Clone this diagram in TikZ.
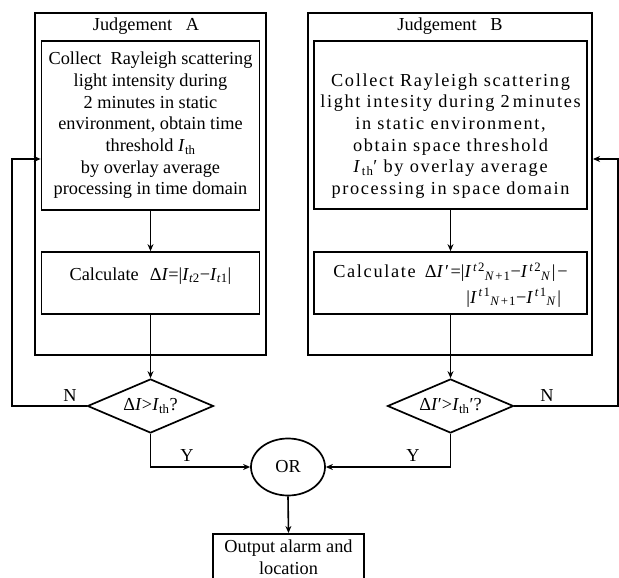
\documentclass[tikz,border=0pt]{standalone}
\usepackage{fontspec}
\setmainfont{Liberation Serif}
\newfontfamily\spacedfont[LetterSpace=9]{Liberation Serif}
\usetikzlibrary{arrows.meta,shapes.geometric}
\tikzset{
  box/.style={draw, line width=1.7pt, inner sep=0pt},
  outerbox/.style={draw, line width=2pt, inner sep=0pt},
  txt/.style={align=center, inner sep=0pt, font=\fontsize{18.3}{21.7}\selectfont},
  txtB/.style={align=center, inner sep=0pt, font=\fontsize{18.3}{21.7}\spacedfont},
  dia/.style={draw, diamond, line width=1.7pt, inner sep=0pt, shape aspect=2.33, minimum width=126pt, minimum height=54pt, font=\fontsize{18.3}{21.7}\selectfont},
  ell/.style={draw, ellipse, line width=1.7pt, inner sep=0pt, minimum width=74pt, minimum height=57pt, font=\fontsize{18.3}{21.7}\selectfont},
  lbl/.style={inner sep=0pt, font=\fontsize{18.3}{21.7}\selectfont},
  arr/.style={line width=1.6pt, -{Stealth[length=7pt,width=6pt]}}
}
\newcommand{\It}{\textit{I}}
\begin{document}
\begin{tikzpicture}[x=1pt,y=-1pt]
\useasboundingbox (0,0) rectangle (619,578);
% Judgement A
\node[outerbox, minimum width=231pt, minimum height=342pt] (oa) at (150.5,184) {};
\node[txt] (ta) at (146,26) {Judgement\hspace{0.5em} A};
\node[box, minimum width=218pt, minimum height=169pt] (a1) at (150.5,125.5) {};
\node[txt] (a1t) at (150.5,125.5) {Collect\hspace{0.5em}Rayleigh scattering\\ light intensity during\\ 2 minutes in static\\ environment, obtain time\\ threshold \It\textsubscript{th}\\ by overlay average\\ processing in time domain};
\node[box, minimum width=218pt, minimum height=62pt] (a2) at (150.5,283) {};
\node[txt] (a2t) at (150.5,276) {Calculate\hspace{0.6em}Δ\It=|\It\textsubscript{\textit{t}2}−\It\textsubscript{\textit{t}1}|};
\node[dia] (da) at (150.5,406) {Δ\It>\It\textsubscript{th}?};
% Judgement B
\node[outerbox, minimum width=284pt, minimum height=342pt] (ob) at (450,184) {};
\node[txt] (tb) at (450,26) {Judgement\hspace{0.5em} B};
\node[box, minimum width=273pt, minimum height=168pt] (b1) at (450.5,125) {};
\node[txtB] (b1t) at (450.5,136) {Collect Rayleigh scattering\\ light intesity during 2\,minutes\\ in static environment,\\ obtain space threshold\\ \It\textsubscript{th}′ by overlay average\\ processing in space domain};
\node[box, minimum width=273pt, minimum height=62pt] (b2) at (450.5,283) {};
\node[txtB] (b2t) at (450.5,286) {\begin{tabular}{@{}r@{}l@{}}Calculate\hspace{0.5em}Δ\It′=&|\It\textsuperscript{\textit{t}2}\textsubscript{\textit{N}+1}−\It\textsuperscript{\textit{t}2}\textsubscript{\textit{N}}|−\\[4pt] &\hspace{0.3em}|\It\textsuperscript{\textit{t}1}\textsubscript{\textit{N}+1}−\It\textsuperscript{\textit{t}1}\textsubscript{\textit{N}}|\end{tabular}};
\node[dia] (db) at (450.5,406) {Δ\It′>\It\textsubscript{th}′?};
% OR and output
\node[ell] (or) at (288,467) {OR};
\node[box, minimum width=151pt, minimum height=67pt, anchor=north] (out) at (288.5,533) {};
\node[txt] (outt) at (288.5,557) {Output alarm and\\ location};
% connectors
\draw[arr] (a1.south) -- (a2.north);
\draw[arr] (a2.south) -- (da.north);
\draw[arr] (b1.south) -- (b2.north);
\draw[arr] (b2.south) -- (db.north);
\draw[arr] (da.south) |- (or.west);
\draw[arr] (db.south) |- (or.east);
\draw[arr] (or.south) -- (out.north);
\coordinate (fa) at (12,159);
\coordinate (fb) at (618,159);
\draw[arr] (da.west) -| (fa) -- (fa -| a1.west);
\draw[arr] (db.east) -| (fb) -- (fb -| ob.east);
% labels
\node[lbl] (nA) at (70,396) {N};
\node[lbl] (yA) at (187,456) {Y};
\node[lbl] (nB) at (547,396) {N};
\node[lbl] (yB) at (413,456) {Y};
\end{tikzpicture}
\end{document}
